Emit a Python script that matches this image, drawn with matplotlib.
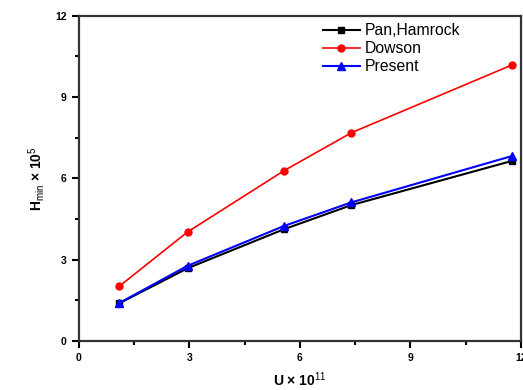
import matplotlib
matplotlib.use("Agg")
import matplotlib.pyplot as plt
from matplotlib.ticker import MultipleLocator

plt.rcParams['font.family'] = ['Liberation Sans', 'DejaVu Sans']
plt.rcParams['mathtext.fontset'] = 'custom'
plt.rcParams['mathtext.rm'] = 'Liberation Sans'
plt.rcParams['mathtext.default'] = 'rm'

# data
u = [1.1, 2.95, 5.57, 7.4, 11.76]
pan_hamrock = [1.39, 2.68, 4.12, 5.01, 6.64]
dowson = [2.02, 4.02, 6.28, 7.68, 10.18]
present = [1.40, 2.77, 4.24, 5.11, 6.82]

fig = plt.figure(figsize=(5.23, 3.9), dpi=100)
ax = fig.add_axes([0.151, 0.126, 0.845, 0.834])

ax.plot(u, pan_hamrock, color='black', marker='s', markersize=5, linewidth=1.5, label='Pan,Hamrock')
ax.plot(u, dowson, color='red', marker='o', markersize=5, linewidth=1.2, label='Dowson')
ax.plot(u, present, color='blue', marker='^', markersize=6, linewidth=1.5, label='Present')

ax.set_xlim(0, 12)
ax.set_ylim(0, 12)
ax.xaxis.set_major_locator(MultipleLocator(3))
ax.yaxis.set_major_locator(MultipleLocator(3))
ax.xaxis.set_minor_locator(MultipleLocator(1.5))
ax.yaxis.set_minor_locator(MultipleLocator(1.5))
ax.tick_params(which='major', direction='out', length=5, width=1.5, labelsize=7.5, pad=4)
ax.tick_params(which='minor', direction='out', length=3, width=1.5)
ax.tick_params(top=False, right=False, which='both')
for lab in ax.get_xticklabels() + ax.get_yticklabels():
    lab.set_fontweight('bold')
for sp in ax.spines.values():
    sp.set_linewidth(1.6)
    sp.set_color('#333333')

ax.set_xlabel('U × 10$^{11}$', fontsize=10, fontweight='bold', labelpad=5)
ax.set_ylabel('H$_{min}$ × 10$^{5}$', fontsize=10, fontweight='bold', labelpad=6)

ax.legend(loc='upper right', bbox_to_anchor=(0.895, 1.02), frameon=False, fontsize=11.3,
          handlelength=2.4, handletextpad=0.3, labelspacing=0.2)

fig.savefig('out.png', dpi=100)
